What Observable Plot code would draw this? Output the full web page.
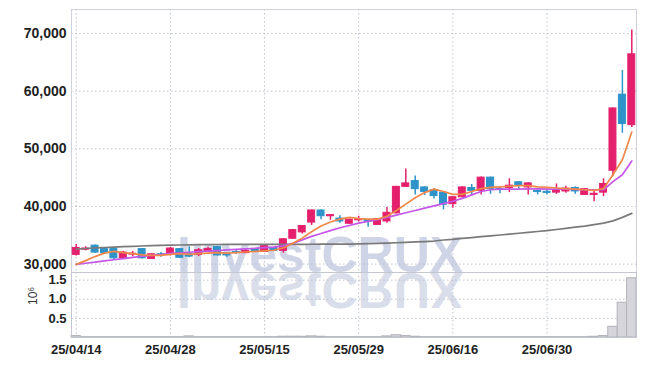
<!DOCTYPE html>
<html><head><meta charset="utf-8">
<script src="https://cdn.jsdelivr.net/npm/d3@7"></script>
<script src="https://cdn.jsdelivr.net/npm/@observablehq/plot@0.6"></script>
<style>
body{margin:0;background:#fff;}
#chart{position:relative;width:645px;height:366px;overflow:hidden;background:#fff;}
#chart svg{position:absolute;left:0;}
</style></head><body><div id="chart"></div>
<script>
// Trading days (YY/MM/DD)
const dates = ["25/04/14","25/04/15","25/04/16","25/04/17","25/04/18","25/04/21","25/04/22","25/04/23","25/04/24","25/04/25",
"25/04/28","25/04/29","25/04/30","25/05/02","25/05/07","25/05/08","25/05/09","25/05/12","25/05/13","25/05/14",
"25/05/15","25/05/16","25/05/19","25/05/20","25/05/21","25/05/22","25/05/23","25/05/26","25/05/27","25/05/28",
"25/05/29","25/05/30","25/06/02","25/06/04","25/06/05","25/06/09","25/06/10","25/06/11","25/06/12","25/06/13",
"25/06/16","25/06/17","25/06/18","25/06/19","25/06/20","25/06/23","25/06/24","25/06/25","25/06/26","25/06/27",
"25/06/30","25/07/01","25/07/02","25/07/03","25/07/04","25/07/07","25/07/08","25/07/09","25/07/10","25/07/11"];
const tickDays = ["25/04/14","25/04/28","25/05/15","25/05/29","25/06/16","25/06/30"];

const opens  = [31600,32500,33200,32600,32600,31000,31650,32600,30900,31700,31600,32600,31700,31600,32100,33000,31800,32100,31900,32600,
                32100,32800,32300,34400,35500,37200,39300,38300,37900,37000,37600,37600,36800,37400,38800,43400,44400,43300,42800,42400,
                40400,41600,43200,42700,45000,43000,43200,44200,43300,42700,42550,42400,42600,43200,42000,42000,42400,46200,59400,54100];
const closes = [32800,32700,32000,31900,31000,32000,31800,31000,31700,31600,32700,31100,31300,32400,32600,31500,31500,32000,32300,32100,
                33100,32300,34300,35900,36600,39300,38300,38500,37400,37700,37700,37400,37800,38900,43400,44000,43000,42500,41800,40300,
                41600,43300,42700,45000,43000,42850,43600,43700,44000,42500,42350,42800,43100,42600,43000,42200,43900,57000,54300,66400];
const highs  = [33400,33000,33300,32700,32700,32200,32200,32700,31800,32000,32900,32700,33000,32700,32900,33100,31900,32400,32500,32700,
                33300,32900,34400,36000,36700,39400,39400,38600,38400,37800,38300,37700,37900,39800,43500,46500,45300,43400,43100,42500,
                41700,43400,43800,45100,45100,43300,44800,44300,44100,42900,42900,43900,43500,43400,43100,42600,44800,57100,63600,70600];
const lows   = [31400,32300,31900,31800,30700,30900,31300,30900,30800,31200,31400,31000,31100,31300,32000,31400,31200,31700,31800,32000,
                32000,32200,31900,34300,35200,36700,37700,37600,37100,36900,37300,36400,36700,37100,38700,43300,42000,41900,41300,39400,
                39700,41500,41900,42000,42100,42200,42400,43000,42000,42000,42000,42100,42300,42100,41900,40800,41700,45200,52700,53700];

// Moving averages as drawn (short, middle, long)
const maShort = [29950,30600,31300,31900,32200,32000,31800,31600,31500,31500,31700,31800,31700,31800,31900,32000,31900,32000,32100,32200,
                 32300,32400,32800,33600,34500,35600,36600,37300,37800,38100,37900,37800,37800,38300,39300,40400,41500,42400,43000,42600,
                 42100,42100,42600,43100,43300,43400,43500,43600,43600,43400,43300,43200,43100,43000,42900,42800,43100,45500,48100,52900];
const maMid   = [29950,30150,30350,30550,30750,30950,31150,31350,31500,31650,31850,31950,32050,32150,32250,32350,32450,32550,32650,32750,
                 32850,32950,33150,33600,34200,34800,35300,35800,36300,36700,37100,37400,37700,38100,38500,38900,39300,39700,40100,40500,
                 40900,41400,42000,42600,42900,43000,43000,43000,43050,43050,43000,43000,43000,42950,42900,42900,42900,44300,45500,47900];
const maLong  = [32600,32700,32800,32880,32950,33020,33080,33140,33190,33240,33280,33310,33340,33360,33380,33400,33410,33420,33420,33430,
                 33430,33430,33430,33430,33430,33440,33450,33460,33470,33480,33500,33540,33590,33640,33700,33770,33840,33910,34000,34180,
                 34300,34450,34600,34750,34900,35050,35200,35350,35500,35650,35800,36000,36200,36400,36600,36850,37100,37500,38100,38800];

// Volume, millions of shares
const volumes = [0.04,0.01,0.01,0.01,0.01,0.01,0.01,0.01,0.01,0.01,0.01,0.01,0.03,0.01,0.01,0.01,0.01,0.01,0.01,0.01,
                 0.01,0.01,0.02,0.02,0.02,0.03,0.02,0.01,0.01,0.01,0.01,0.01,0.01,0.03,0.06,0.04,0.02,0.01,0.01,0.01,
                 0.01,0.01,0.01,0.01,0.01,0.01,0.01,0.01,0.01,0.01,0.01,0.01,0.01,0.01,0.01,0.02,0.04,0.28,0.91,1.55];

const priceTicks = [30000,40000,50000,60000,70000];
const volTicks = [0.5,1.0,1.5];
const volUnit = "10⁶";
const watermark = "InvestCRUX";

const PINK = "#e4206c", BLUE = "#2d93c8", GRID = "#bfc3d3";
const FONT = "'Liberation Sans', Arial, sans-serif";

const rows = dates.map((d, i) => ({i, date: d, open: opens[i], close: closes[i], high: highs[i], low: lows[i],
  vol: volumes[i], maShort: maShort[i], maMid: maMid[i], maLong: maLong[i]}));
const tickIdx = tickDays.map(t => dates.indexOf(t));
const col = d => d.close >= d.open ? PINK : BLUE;
const xDomain = [-0.5, dates.length - 0.5];

const topPlot = Plot.plot({
  width: 645, height: 273, marginTop: 9, marginBottom: 1, marginLeft: 71, marginRight: 9,
  style: {background: "transparent", fontFamily: FONT, fontSize: "14px", fontWeight: "bold", color: "#222"},
  x: {domain: xDomain, axis: null},
  y: {domain: [28540, 74170], ticks: priceTicks, tickFormat: d3.format(","), tickSize: 0, tickPadding: 5, label: null},
  marks: [
    Plot.ruleY(priceTicks, {stroke: GRID, strokeDasharray: "1.5,2.5"}),
    Plot.ruleX(tickIdx, {stroke: GRID, strokeDasharray: "1.5,2.5"}),
    Plot.frame({stroke: "#cfd2dc"}),
    Plot.ruleX(rows, {x: "i", y1: "low", y2: "high", stroke: col, strokeWidth: 1.5}),
    Plot.rect(rows, {x1: d => d.i - 0.37, x2: d => d.i + 0.37, y1: "open", y2: "close", fill: col, stroke: col, strokeWidth: 1}),
    Plot.line(rows, {x: "i", y: "maLong", stroke: "#7a7a7a", strokeWidth: 1.7}),
    Plot.line(rows, {x: "i", y: "maMid", stroke: "#c457e6", strokeWidth: 1.7}),
    Plot.line(rows, {x: "i", y: "maShort", stroke: "#f0884b", strokeWidth: 1.7})
  ]
});

const botPlot = Plot.plot({
  width: 645, height: 94, marginTop: 0, marginBottom: 29, marginLeft: 71, marginRight: 9,
  style: {background: "transparent", fontFamily: FONT, fontSize: "13px", fontWeight: "bold", color: "#222"},
  x: {domain: xDomain, ticks: tickIdx, tickFormat: i => dates[i], tickSize: 0, tickPadding: 7, label: null},
  y: {domain: [0, 1.70], ticks: volTicks, tickFormat: d3.format(".1f"), tickSize: 0, tickPadding: 5, label: null},
  marks: [
    Plot.ruleY(volTicks, {stroke: GRID, strokeDasharray: "1.5,2.5"}),
    Plot.ruleX(tickIdx, {stroke: GRID, strokeDasharray: "1.5,2.5"}),
    Plot.rectY(rows, {x1: d => d.i - 0.5, x2: d => d.i + 0.5, y: "vol", fill: "#d5d5db", stroke: "#b3b3bb", strokeWidth: 1}),
    Plot.frame({stroke: "#c4c6d0"}),
    Plot.text([volUnit], {text: d => d, frameAnchor: "left", dx: -38, rotate: -90, fontWeight: "normal", fontSize: 12, fill: "#333"})
  ]
});

// watermark and its reflection in a background layer behind both panels
const bg = d3.create("svg").attr("width", 645).attr("height", 366).style("top", "0px");
bg.append("text")
  .attr("x", 320).attr("y", 272).attr("text-anchor", "middle")
  .attr("font-family", FONT).attr("font-size", 50).attr("font-weight", "bold")
  .attr("fill", "#cfd5e6").text(watermark);
bg.append("text")
  .attr("x", 320).attr("y", -273).attr("transform", "scale(1,-1)").attr("text-anchor", "middle")
  .attr("font-family", FONT).attr("font-size", 50).attr("font-weight", "bold")
  .attr("fill", "#dadeea").text(watermark);

topPlot.style.top = "0px";
botPlot.style.top = "272px";
const chart = document.getElementById("chart");
chart.appendChild(bg.node());
chart.appendChild(topPlot);
chart.appendChild(botPlot);
</script></body></html>
